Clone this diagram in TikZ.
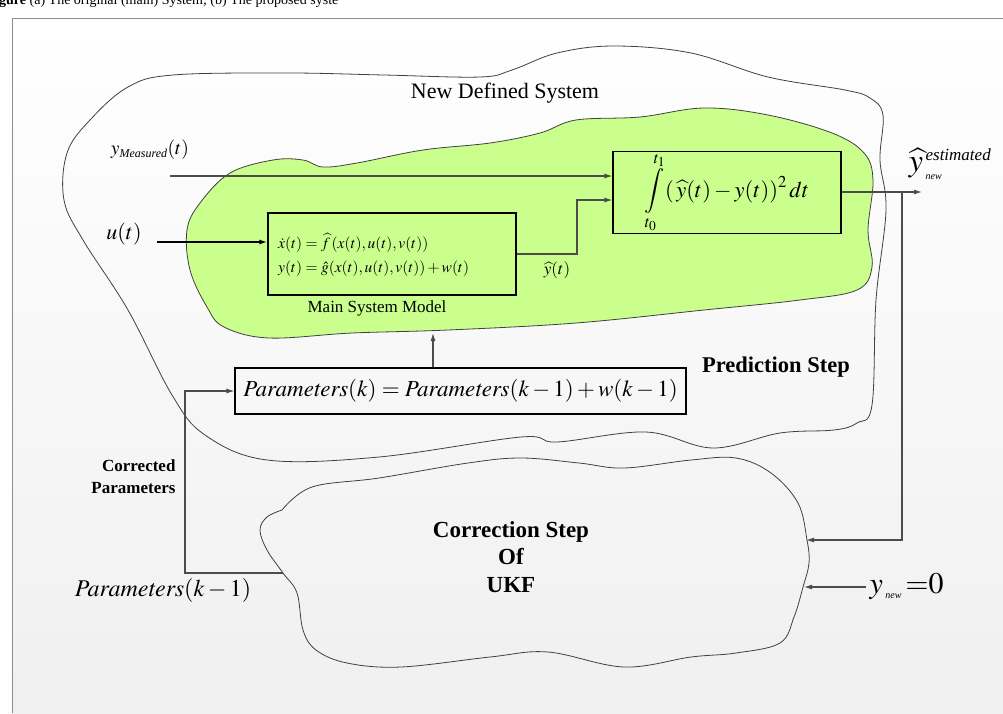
\documentclass[tikz,border=0pt]{standalone}
\usepackage{mathptmx}
\usepackage{fontspec}
\setmainfont{Liberation Serif}
\usetikzlibrary{arrows.meta}

\definecolor{blobgreen}{RGB}{202,255,142}

\begin{document}
\begin{tikzpicture}[x=1pt,y=-1pt]
    % --- styles ---
    \tikzstyle{sig}=[-{Latex[length=8pt,width=5pt]}, line width=1.1pt, black!70]
    \tikzstyle{blob}=[line width=0.8pt, black!75]
    \tikzstyle{blockbox}=[draw, line width=1.1pt, inner sep=0pt]
    \tikzstyle{boldlab}=[font=\bfseries\fontsize{23}{27.5}\selectfont, align=center]

    \useasboundingbox (0,0) rectangle (1003,713);

    % ====== page background and frame ======
    \fill[white] (0,0) rectangle (1003,713);
    \shade[top color=white, bottom color=black!6] (12,18) rectangle (1003,713);
    \draw[black!45] (12,713) -- (12,18) -- (1003,18);
    \node[anchor=base west, inner sep=0pt, font=\fontsize{14}{16}\selectfont] (caption) at (-1,4)
        {\textbf{gure} (a) The original (main) System; (b) The proposed syste};

    % ====== outer cloud: New Defined System ======
    \draw[blob] plot[smooth cycle, tension=0.6] coordinates {
        (64,200) (67,153) (90,120) (128,87) (173,75) (288,73) (384,75) (480,77)
        (512,70) (557,53) (614,46) (691,53) (768,77) (845,90) (870,98) (883,115)
        (880,160) (886,210) (876,300) (872,405) (857,423) (834,430) (780,433)
        (713,448) (646,432) (557,442) (521,437) (379,457) (267,460) (205,435)
        (172,395) (128,310) (83,240)};
    \node[font=\fontsize{22}{24}\selectfont] (title) at (505,93) {New Defined System};

    % ====== green cloud ======
    \filldraw[blob, fill=blobgreen] plot[smooth cycle, tension=0.6] coordinates {
        (230,173) (273,160) (303,160) (323,167) (357,163) (423,150) (490,143)
        (540,133) (576,120) (640,117) (704,108) (768,115) (832,133) (864,153)
        (873,180) (868,230) (872,267) (857,290) (800,300) (704,310) (576,323)
        (448,330) (352,333) (269,338) (224,327) (207,307) (190,270) (187,230)
        (200,203)};

    % ====== correction cloud ======
    \draw[blob] plot[smooth, tension=0.6] coordinates {
        (282,510) (312,487) (379,478) (468,463) (521,458) (579,463) (624,468)
        (691,460) (736,458) (771,473) (798,503) (807,540) (809,563) (803,587)
        (794,617) (780,643) (736,653) (691,657) (624,667) (548,652) (490,657)
        (401,667) (347,663) (316,650) (303,630) (297,593) (283,573) (267,550)
        (260,530) (267,517) (282,510)};
    \node[boldlab] (ukf) at (511,557) {Correction Step\\Of\\UKF};

    % ====== blocks ======
    \node[blockbox, minimum width=248, minimum height=82] (model) at (392,254) {};
    \node[anchor=west, align=left, inner sep=0pt, font=\fontsize{15.5}{24}\selectfont] (modeleq) at (278,255)
        {$\dot{x}(t)=\widehat{f}\,(x(t),u(t),v(t))$\\$y(t)=\hat{g}(x(t),u(t),v(t))+w(t)$};
    \node[font=\fontsize{17}{19}\selectfont] (modellab) at (377,308) {Main System Model};

    \node[blockbox, minimum width=228, minimum height=77, font=\fontsize{22.5}{24}\selectfont] (cost) at (727,192.5)
        {$\displaystyle\int\limits_{t_0}^{t_1}(\,\widehat{y}(t)-y(t))^2\,dt$};

    \node[blockbox, minimum width=451, minimum height=46, font=\fontsize{23}{25}\selectfont] (param) at (460.5,391)
        {$\mathit{Parameters}(k)=\mathit{Parameters}(k-1)+w(k-1)$};

    % ====== labels ======
    \node[font=\fontsize{19.5}{21}\selectfont] (ymlab) at (150,150) {$y_{\mbox{\fontsize{12}{12}\selectfont\itshape Measured}}(t)$};
    \node[font=\fontsize{22}{24}\selectfont] (ulab) at (124,234) {$u(t)$};
    \node[font=\fontsize{17}{19}\selectfont] (yhatlab) at (557,270) {$\widehat{y}(t)$};
    \node[font=\fontsize{32}{34}\selectfont] (yestlab) at (950,164)
        {$\widehat{y}^{\,\mbox{\fontsize{17}{17}\selectfont\itshape estimated}}_{\,\mbox{\fontsize{10}{10}\selectfont\itshape new}}$};
    \node[anchor=west, font=\fontsize{30}{32}\selectfont] (ynew) at (866,587)
        {$y_{\,\mbox{\fontsize{10}{10}\selectfont\itshape new}}\,{=}\mathrm{0}$};
    \node[font=\bfseries\fontsize{22.5}{24}\selectfont] (predlab) at (776,367) {Prediction Step};
    \node[anchor=east, align=right, font=\bfseries\fontsize{17}{22}\selectfont] (corrlab) at (179,477) {Corrected\\Parameters};
    \node[font=\fontsize{24}{26}\selectfont] (pkm1) at (163,590) {$\mathit{Parameters}(k-1)$};

    % ====== connection points ======
    \coordinate (ymin) at (170,176);
    \coordinate (uin) at (157,242);
    \coordinate (yhatturn) at (577,200);
    \coordinate (yest) at (922,192);
    \coordinate (fbtap) at (902,192);
    \coordinate (ukfin) at (806,540);
    \coordinate (ynewin) at (804,587);
    \coordinate (modelbot) at (433,333);
    \coordinate (ukfout) at (283,573);
    \coordinate (loopc) at (185,391);

    % ====== connectors ======
    \draw[sig] (ymin) -- (ymin -| cost.west);
    \draw[sig, black, line width=2pt] (uin) -- (uin -| model.west);
    \draw[sig] (model.east) -| (yhatturn) -- (yhatturn -| cost.west);
    \draw[sig] (cost.east |- yest) -- (yest);
    \draw[sig] (fbtap) |- (ukfin);
    \draw[sig] (ynew.west) -- (ynewin);
    \draw[sig] (modelbot |- param.north) -- (modelbot);
    \draw[sig] (ukfout) -| (loopc) -- (param.west);
\end{tikzpicture}
\end{document}
